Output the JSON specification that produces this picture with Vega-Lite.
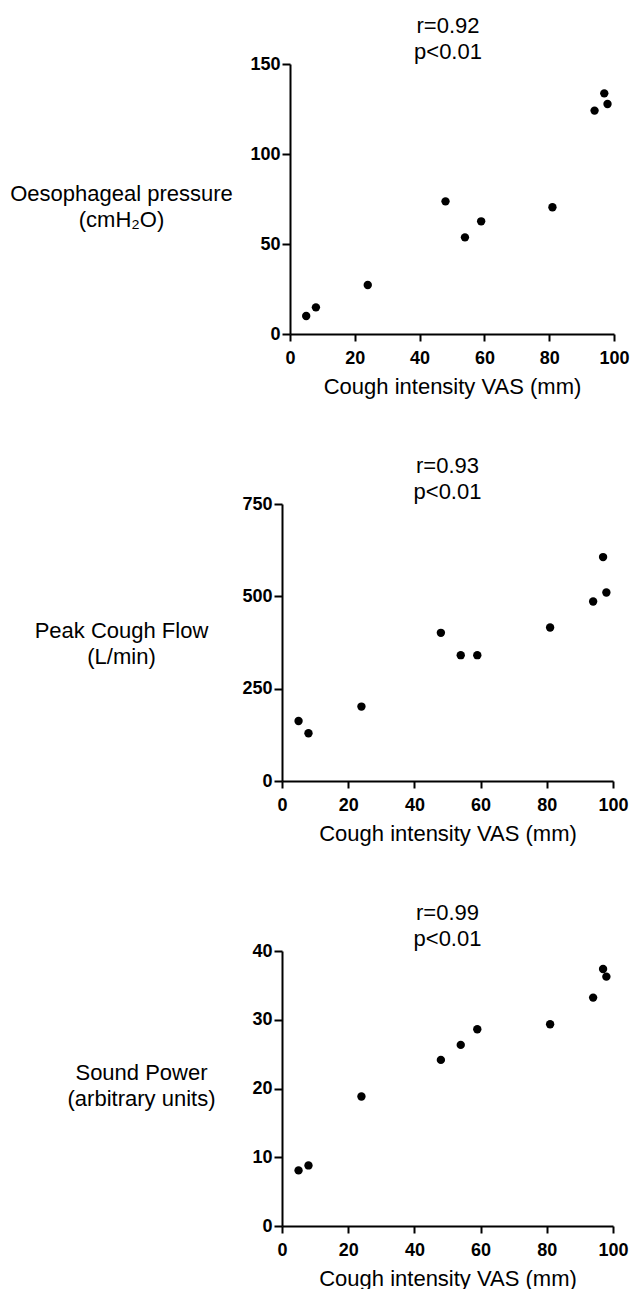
{
  "$schema": "https://vega.github.io/schema/vega-lite/v6.json",
  "padding": {"left": 9, "top": 15, "right": 0, "bottom": 0},
  "background": "white",
  "bounds": "flush",
  "spacing": 170,
  "data": {
    "values": [
      {"vas": 5, "oes": 10.0, "pcf": 162.6, "sound": 8.09},
      {"vas": 8, "oes": 14.8, "pcf": 129.2, "sound": 8.81},
      {"vas": 24, "oes": 27.2, "pcf": 201.5, "sound": 18.84},
      {"vas": 48, "oes": 73.7, "pcf": 401.2, "sound": 24.16},
      {"vas": 54, "oes": 53.7, "pcf": 340.7, "sound": 26.34},
      {"vas": 59, "oes": 62.6, "pcf": 340.7, "sound": 28.62},
      {"vas": 81, "oes": 70.4, "pcf": 415.7, "sound": 29.35},
      {"vas": 94, "oes": 124.1, "pcf": 486.1, "sound": 33.22},
      {"vas": 97, "oes": 133.7, "pcf": 606.3, "sound": 37.38},
      {"vas": 98, "oes": 127.8, "pcf": 510.5, "sound": 36.27}
    ]
  },
  "vconcat": [
    {
      "width": 332,
      "height": 270,
      "title": {"text": ["r=0.92", "p<0.01"]},
      "mark": {"type": "point", "filled": true, "color": "black", "size": 70, "opacity": 1},
      "encoding": {
        "x": {"field": "vas", "type": "quantitative",
              "scale": {"domain": [0, 100], "range": [8, 332], "nice": false},
              "axis": {"values": [0, 20, 40, 60, 80, 100], "title": "Cough intensity VAS (mm)"}},
        "y": {"field": "oes", "type": "quantitative",
              "scale": {"domain": [0, 150], "nice": false},
              "axis": {"values": [0, 50, 100, 150], "offset": -8, "title": ["Oesophageal pressure", "(cmH₂O)"], "titleX": -169, "titleY": 129}}
      }
    },
    {
      "width": 331,
      "height": 277,
      "title": {"text": ["r=0.93", "p<0.01"]},
      "mark": {"type": "point", "filled": true, "color": "black", "size": 70, "opacity": 1},
      "encoding": {
        "x": {"field": "vas", "type": "quantitative",
              "scale": {"domain": [0, 100], "nice": false},
              "axis": {"values": [0, 20, 40, 60, 80, 100], "title": "Cough intensity VAS (mm)"}},
        "y": {"field": "pcf", "type": "quantitative",
              "scale": {"domain": [0, 750], "nice": false},
              "axis": {"values": [0, 250, 500, 750], "title": ["Peak Cough Flow", "(L/min)"], "titleX": -161, "titleY": 126}}
      }
    },
    {
      "width": 331,
      "height": 275,
      "title": {"text": ["r=0.99", "p<0.01"]},
      "mark": {"type": "point", "filled": true, "color": "black", "size": 70, "opacity": 1},
      "encoding": {
        "x": {"field": "vas", "type": "quantitative",
              "scale": {"domain": [0, 100], "nice": false},
              "axis": {"values": [0, 20, 40, 60, 80, 100], "title": "Cough intensity VAS (mm)"}},
        "y": {"field": "sound", "type": "quantitative",
              "scale": {"domain": [0, 40], "nice": false},
              "axis": {"values": [0, 10, 20, 30, 40], "title": ["Sound Power", "(arbitrary units)"], "titleX": -141, "titleY": 121}}
      }
    }
  ],
  "config": {
    "view": {"stroke": null},
    "axis": {
      "grid": false,
      "domainColor": "black",
      "domainWidth": 2,
      "tickColor": "black",
      "tickWidth": 2,
      "labelFont": "Liberation Sans",
      "labelFontSize": 18,
      "labelFontWeight": "bold",
      "labelColor": "black",
      "labelFlush": false,
      "labelOverlap": false,
      "titleFont": "Liberation Sans",
      "titleFontSize": 22,
      "titleFontWeight": "normal",
      "titleColor": "black"
    },
    "axisX": {"tickSize": 7, "labelPadding": 8, "titleBaseline": "alphabetic", "titleY": 59},
    "axisY": {"tickSize": 8, "labelPadding": 2, "titleAngle": 0, "titleAlign": "center", "titleBaseline": "middle", "titleLineHeight": 26},
    "title": {"font": "Liberation Sans", "fontSize": 22, "fontWeight": "normal", "color": "black", "anchor": "middle", "lineHeight": 26, "offset": -9}
  }
}
